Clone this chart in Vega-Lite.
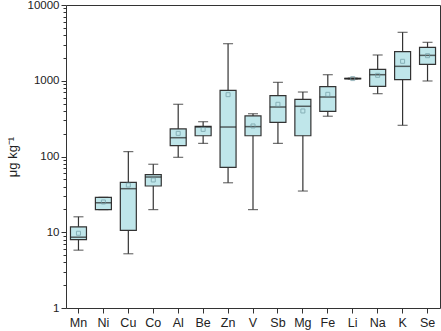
{
  "$schema": "https://vega.github.io/schema/vega-lite/v6.json",
  "width": 374,
  "height": 303,
  "autosize": "none",
  "padding": {"left": 66, "top": 5, "right": 1, "bottom": 23},
  "background": "white",
  "config": {
    "view": {"stroke": "#333333", "strokeWidth": 1},
    "font": "Liberation Sans",
    "axis": {"domainColor": "#333333", "tickColor": "#333333", "labelColor": "#222222", "titleColor": "#222222", "grid": false}
  },
  "data": {
    "values": [
      {"el": "Mn", "lo": 5.8, "q1": 8.0, "med": 8.6, "q3": 11.8, "hi": 16.0, "mean": 9.7},
      {"el": "Ni", "lo": 19.9, "q1": 19.9, "med": 24.5, "q3": 28.9, "hi": 28.9, "mean": 25.1},
      {"el": "Cu", "lo": 5.2, "q1": 10.6, "med": 37.6, "q3": 45.6, "hi": 116, "mean": 42},
      {"el": "Co", "lo": 19.9, "q1": 40.8, "med": 53.6, "q3": 57.5, "hi": 79, "mean": 49},
      {"el": "Al", "lo": 97.5, "q1": 139, "med": 177, "q3": 231, "hi": 489, "mean": 202},
      {"el": "Be", "lo": 149, "q1": 188, "med": 245, "q3": 250, "hi": 288, "mean": 228},
      {"el": "Zn", "lo": 45, "q1": 72, "med": 245, "q3": 748, "hi": 3085, "mean": 655},
      {"el": "V", "lo": 19.9, "q1": 188, "med": 248, "q3": 343, "hi": 367, "mean": 253},
      {"el": "Sb", "lo": 149, "q1": 283, "med": 450, "q3": 635, "hi": 953, "mean": 489},
      {"el": "Mg", "lo": 35, "q1": 188, "med": 460, "q3": 569, "hi": 710, "mean": 399},
      {"el": "Fe", "lo": 340, "q1": 395, "med": 610, "q3": 834, "hi": 1202, "mean": 662},
      {"el": "Li", "lo": 1055, "q1": 1060, "med": 1068, "q3": 1076, "hi": 1082, "mean": 1068},
      {"el": "Na", "lo": 675, "q1": 844, "med": 1202, "q3": 1416, "hi": 2188, "mean": 1180},
      {"el": "K", "lo": 258, "q1": 1033, "med": 1550, "q3": 2420, "hi": 4357, "mean": 1806},
      {"el": "Se", "lo": 993, "q1": 1648, "med": 2163, "q3": 2761, "hi": 3215, "mean": 2143}
    ]
  },
  "encoding": {
    "x": {
      "field": "el", "type": "nominal", "sort": null,
      "scale": {"paddingInner": 0, "paddingOuter": 0},
      "axis": {"title": null, "labelAngle": 0, "labelFontSize": 12.5, "tickSize": 5, "labelPadding": 3, "domain": false}
    }
  },
  "layer": [
    {
      "mark": {"type": "rule", "color": "#333333", "strokeWidth": 1.2},
      "encoding": {
        "y": {
          "field": "lo", "type": "quantitative",
          "scale": {"type": "log", "domain": [1, 10000], "nice": false},
          "axis": {
            "orient": "left",
            "values": [1,2,3,4,5,6,7,8,9,10,20,30,40,50,60,70,80,90,100,200,300,400,500,600,700,800,900,1000,2000,3000,4000,5000,6000,7000,8000,9000,10000],
            "labelExpr": "indexof([1,10,100,1000,10000], datum.value) >= 0 ? format(datum.value, 'd') : ''",
            "tickSize": {"condition": {"test": "indexof([1,10,100,1000,10000], datum.value) >= 0", "value": 5}, "value": 3},
            "labelFontSize": 11.5, "labelPadding": 2, "labelOverlap": false,
            "title": "μg kg⁻¹", "titleFontSize": 13, "titleFontWeight": "normal", "titlePadding": 8,
            "domain": false
          }
        },
        "y2": {"field": "hi"}
      }
    },
    {
      "mark": {"type": "tick", "color": "#333333", "thickness": 1.2, "size": 10},
      "encoding": {"y": {"field": "lo", "type": "quantitative"}}
    },
    {
      "mark": {"type": "tick", "color": "#333333", "thickness": 1.2, "size": 10},
      "encoding": {"y": {"field": "hi", "type": "quantitative"}}
    },
    {
      "mark": {"type": "bar", "fill": "#bfe6ea", "stroke": "#333333", "strokeWidth": 1.2, "width": 16},
      "encoding": {
        "y": {"field": "q1", "type": "quantitative"},
        "y2": {"field": "q3"}
      }
    },
    {
      "mark": {"type": "tick", "color": "#222222", "thickness": 1.5, "size": 16},
      "encoding": {"y": {"field": "med", "type": "quantitative"}}
    },
    {
      "mark": {"type": "point", "shape": "square", "size": 16, "filled": false, "stroke": "#6f9aa2", "strokeWidth": 1},
      "encoding": {"y": {"field": "mean", "type": "quantitative"}}
    }
  ]
}
